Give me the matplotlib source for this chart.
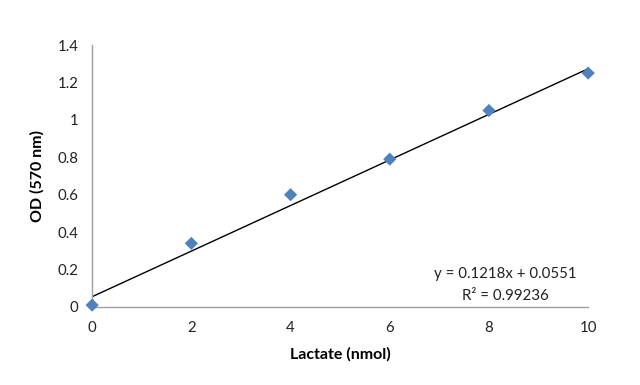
import numpy as np
import matplotlib.pyplot as plt

# ==========================================================
# DATA
# ==========================================================

lactate = [0, 2, 4, 6, 8, 10]
od = [0.01, 0.34, 0.60, 0.79, 1.05, 1.25]

slope = 0.1218
intercept = 0.0551
r2 = 0.99236

x_ticks = [0, 2, 4, 6, 8, 10]
y_ticks = [0, 0.2, 0.4, 0.6, 0.8, 1, 1.2, 1.4]
y_tick_labels = ["0", "0.2", "0.4", "0.6", "0.8", "1", "1.2", "1.4"]

# ==========================================================
# STYLE
# ==========================================================

plt.rcParams["font.family"] = ["Lato", "DejaVu Sans"]
plt.rcParams["font.size"] = 10.8

fig = plt.figure(figsize=(6.4, 3.85), dpi=100)
ax = fig.add_axes([0.144, 0.2026, 0.775, 0.6805])

# ==========================================================
# DRAW
# ==========================================================

fit_x = np.array([lactate[0], lactate[-1]])
ax.plot(fit_x, slope * fit_x + intercept, color="black", linewidth=1.0, zorder=2)

ax.scatter(lactate, od, marker="D", s=45, color="#4F81BD",
           edgecolors="none", zorder=3, clip_on=False)

ax.text(8.33, 0.176, f"y = {slope}x + {intercept}", ha="center", va="center",
        fontsize=10.8, color="#222222")
ax.text(8.33, 0.059, f"R\u00b2 = {r2}", ha="center", va="center",
        fontsize=10.8, color="#222222")

# ==========================================================
# FIGURE SETTINGS
# ==========================================================

ax.set_xlim(0, 10)
ax.set_ylim(0, 1.4)
ax.set_xticks(x_ticks)
ax.set_yticks(y_ticks)
ax.set_yticklabels(y_tick_labels)

ax.set_xlabel("Lactate (nmol)", fontweight="bold", fontsize=11.5, labelpad=9)
ax.set_ylabel("OD (570 nm)", fontweight="bold", fontsize=11.5, labelpad=9)

for side in ["top", "right"]:
    ax.spines[side].set_visible(False)
for side in ["left", "bottom"]:
    ax.spines[side].set_color("#A0A0A0")
    ax.spines[side].set_linewidth(1.0)

ax.tick_params(length=0, pad=10, colors="#222222")

plt.savefig("out.png", dpi=100)
